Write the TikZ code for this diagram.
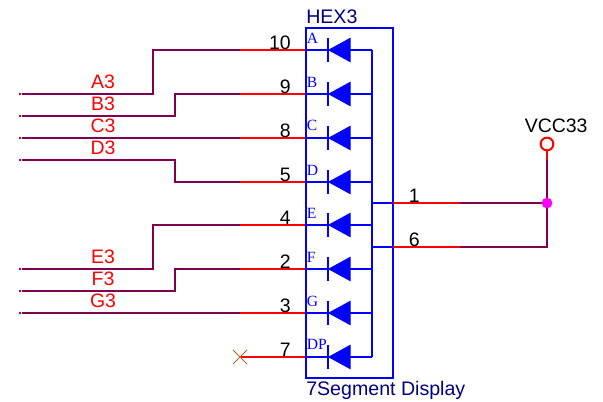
\documentclass[tikz,border=0pt]{standalone}
\usepackage{fontspec}
\setmainfont{Liberation Sans}
\newfontfamily\pinfont{Liberation Serif}
\usepackage{tikz}
\definecolor{netwire}{RGB}{128,0,80}
\definecolor{partname}{RGB}{0,0,128}
\definecolor{crossmark}{RGB}{170,105,50}
\definecolor{dotpink}{RGB}{255,0,255}
\definecolor{segblue}{RGB}{0,0,255}
\tikzset{
    netline/.style={color=netwire,line width=1.5pt},
    pinline/.style={color=red,line width=1.6pt},
    segline/.style={color=segblue,line width=2pt},
    segfill/.style={color=segblue,fill=segblue,line width=0.75pt},
    netlabel/.style={anchor=base,inner sep=0pt,color=red,font=\fontsize{14.6}{16}\selectfont},
    pinnumber/.style={inner sep=0pt,color=black,font=\fontsize{14.6}{16}\selectfont},
    partlabel/.style={anchor=base west,inner sep=0pt,color=partname,font=\fontsize{14.7}{16}\selectfont},
    segname/.style={anchor=base west,inner sep=0pt,color=segblue,font=\pinfont\fontsize{11.7}{13}\selectfont},
    netend/.style={circle,fill=netwire,inner sep=0pt,minimum size=2pt},
    junction/.style={circle,fill=dotpink,inner sep=0pt,minimum size=8pt},
    powerpin/.style={circle,draw=red,fill=white,line width=1.5pt,inner sep=0pt,minimum size=9.5pt}
}
\begin{document}
\begin{tikzpicture}[x=0.75pt,y=0.75pt,yscale=-1,xscale=1]
    \useasboundingbox (0,0) rectangle (603,402);

    % Net ends
    \node [netend] (endA) at (20,94) {};
    \node [netend] (endB) at (20,116) {};
    \node [netend] (endC) at (20,138) {};
    \node [netend] (endD) at (20,160) {};
    \node [netend] (endE) at (20,269) {};
    \node [netend] (endF) at (20,291) {};
    \node [netend] (endG) at (20,313) {};

    % Pin starts
    \coordinate (wireA) at (240,50);
    \coordinate (wireB) at (240,94);
    \coordinate (wireC) at (240,138);
    \coordinate (wireD) at (240,182);
    \coordinate (wireE) at (240,225);
    \coordinate (wireF) at (240,269);
    \coordinate (wireG) at (240,313);
    \coordinate (wireDP) at (240,357);

    % Pins on the box
    \coordinate (pinA) at (306,50);
    \coordinate (pinB) at (306,94);
    \coordinate (pinC) at (306,138);
    \coordinate (pinD) at (306,182);
    \coordinate (pinE) at (306,225);
    \coordinate (pinF) at (306,269);
    \coordinate (pinG) at (306,313);
    \coordinate (pinDP) at (306,357);

    % Common bus
    \coordinate (busA) at (372,50);
    \coordinate (busB) at (372,94);
    \coordinate (busC) at (372,138);
    \coordinate (busD) at (372,182);
    \coordinate (busE) at (372,225);
    \coordinate (busF) at (372,269);
    \coordinate (busG) at (372,313);
    \coordinate (busDP) at (372,357);
    \coordinate (busOne) at (372,203);
    \coordinate (busSix) at (372,247);

    % Nets
    \draw [netline] (endA) -- (153,94) -- (153,50) -- (wireA);
    \draw [netline] (endB) -- (175,116) -- (175,94) -- (wireB);
    \draw [netline] (endC) -- (wireC);
    \draw [netline] (endD) -- (175,160) -- (175,182) -- (wireD);
    \draw [netline] (endE) -- (153,269) -- (153,225) -- (wireE);
    \draw [netline] (endF) -- (175,291) -- (175,269) -- (wireF);
    \draw [netline] (endG) -- (wireG);

    % Pin wires
    \draw [pinline] (wireA) -- (pinA);
    \draw [pinline] (wireB) -- (pinB);
    \draw [pinline] (wireC) -- (pinC);
    \draw [pinline] (wireD) -- (pinD);
    \draw [pinline] (wireE) -- (pinE);
    \draw [pinline] (wireF) -- (pinF);
    \draw [pinline] (wireG) -- (pinG);
    \draw [pinline] (wireDP) -- (pinDP);

    % Not connected
    \draw [color=crossmark,line width=0.75pt] (233,350) -- (247,364);
    \draw [color=crossmark,line width=0.75pt] (233,364) -- (247,350);

    % Display box
    \node [draw=segblue,line width=2.2pt,inner sep=0pt,minimum width=65.25pt,minimum height=262.5pt] (hexbox) at (349.5,203) {};

    % Segment lines
    \draw [segline] (pinA) -- (busA);
    \draw [segline] (pinB) -- (busB);
    \draw [segline] (pinC) -- (busC);
    \draw [segline] (pinD) -- (busD);
    \draw [segline] (pinE) -- (busE);
    \draw [segline] (pinF) -- (busF);
    \draw [segline] (pinG) -- (busG);
    \draw [segline] (pinDP) -- (busDP);
    \draw [segline] (busA) -- (busDP);

    % Diodes
    \draw [segfill] (329,50) -- (350,38.5) -- (350,61.5) -- cycle;
    \draw [segline] (328,38) -- (328,62);
    \draw [segfill] (329,94) -- (350,82.5) -- (350,105.5) -- cycle;
    \draw [segline] (328,82) -- (328,106);
    \draw [segfill] (329,138) -- (350,126.5) -- (350,149.5) -- cycle;
    \draw [segline] (328,126) -- (328,150);
    \draw [segfill] (329,182) -- (350,170.5) -- (350,193.5) -- cycle;
    \draw [segline] (328,170) -- (328,194);
    \draw [segfill] (329,225) -- (350,213.5) -- (350,236.5) -- cycle;
    \draw [segline] (328,213) -- (328,237);
    \draw [segfill] (329,269) -- (350,257.5) -- (350,280.5) -- cycle;
    \draw [segline] (328,257) -- (328,281);
    \draw [segfill] (329,313) -- (350,301.5) -- (350,324.5) -- cycle;
    \draw [segline] (328,301) -- (328,325);
    \draw [segfill] (329,357) -- (350,345.5) -- (350,368.5) -- cycle;
    \draw [segline] (328,345) -- (328,369);

    % Supply side
    \node [powerpin] (vccpin) at (547,144) {};
    \coordinate (redOne) at (393,203);
    \coordinate (midOne) at (460,203);
    \coordinate (redSix) at (393,247);
    \coordinate (midSix) at (460,247);
    \coordinate (vccmid) at (547,160);
    \coordinate (vccjoin) at (547,203);
    \draw [segline] (busOne) -- (redOne);
    \draw [segline] (busSix) -- (redSix);
    \draw [pinline] (redOne) -- (midOne);
    \draw [pinline] (redSix) -- (midSix);
    \draw [netline] (midOne) -- (vccjoin);
    \draw [netline] (midSix) -- (547,247) -- (vccjoin);
    \draw [netline] (vccmid) -- (vccjoin);
    \draw [pinline] (vccpin) -- (vccmid);
    \node [junction] (vccdot) at (vccjoin) {};

    % Text Node
    \node [netlabel] (labelA) at (103,88.5) {A3};
    \node [netlabel] (labelB) at (103,110.5) {B3};
    \node [netlabel] (labelC) at (103,132.5) {C3};
    \node [netlabel] (labelD) at (103,154.5) {D3};
    \node [netlabel] (labelE) at (103,263.5) {E3};
    \node [netlabel] (labelF) at (103,285.5) {F3};
    \node [netlabel] (labelG) at (103,307.5) {G3};
    % Text Node
    \node [pinnumber,anchor=base east] (numA) at (291,50) {10};
    \node [pinnumber,anchor=base east] (numB) at (291,94) {9};
    \node [pinnumber,anchor=base east] (numC) at (291,138) {8};
    \node [pinnumber,anchor=base east] (numD) at (291,182) {5};
    \node [pinnumber,anchor=base east] (numE) at (291,225) {4};
    \node [pinnumber,anchor=base east] (numF) at (291,269) {2};
    \node [pinnumber,anchor=base east] (numG) at (291,313) {3};
    \node [pinnumber,anchor=base east] (numDP) at (291,357) {7};
    \node [pinnumber,anchor=base west] (numOne) at (408.5,203) {1};
    \node [pinnumber,anchor=base west] (numSix) at (408.5,247) {6};
    % Text Node
    \node [segname] (nameA) at (306.5,43.5) {A};
    \node [segname] (nameB) at (306.5,87.5) {B};
    \node [segname] (nameC) at (306.5,131) {C};
    \node [segname] (nameD) at (306.5,175.5) {D};
    \node [segname] (nameE) at (306.5,219) {E};
    \node [segname] (nameF) at (306.5,262.5) {F};
    \node [segname] (nameG) at (306.5,306.5) {G};
    \node [segname] (nameDP) at (306.5,350) {DP};
    % Text Node
    \node [partlabel] (hexname) at (306,24) {HEX3};
    \node [partlabel] (hextype) at (306,395) {7Segment Display};
    \node [pinnumber,anchor=base west] (vccname) at (524.5,133) {VCC33};
\end{tikzpicture}
\end{document}
